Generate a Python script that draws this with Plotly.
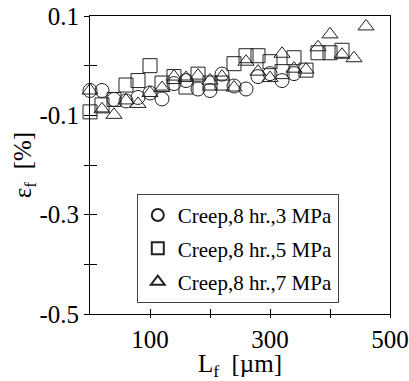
import plotly.graph_objects as go

# ---- data ----
x_circ = [0, 20, 40, 60, 80, 100, 120, 140, 160, 180, 200, 220, 240, 260, 280, 300, 320, 340]
y_circ = [-0.050, -0.050, -0.068, -0.071, -0.064, -0.055, -0.067, -0.036, -0.030, -0.047,
          -0.050, -0.017, -0.041, -0.047, -0.022, -0.016, -0.030, -0.016]

x_sq = [0, 20, 40, 60, 80, 100, 120, 140, 160, 180, 200, 220, 240, 260, 280, 300, 320, 340,
        360, 380, 400, 420]
y_sq = [-0.093, -0.079, -0.068, -0.039, -0.030, 0.000, -0.035, -0.022, -0.043, -0.017,
        -0.035, -0.035, 0.004, 0.020, 0.020, 0.008, -0.012, 0.016, -0.009, 0.026, 0.026, 0.031]

x_tri = [0, 20, 40, 60, 80, 100, 120, 140, 160, 180, 200, 220, 240, 260, 280, 300, 320, 340,
         360, 380, 400, 420, 440, 460]
y_tri = [-0.050, -0.088, -0.099, -0.070, -0.077, -0.055, -0.045, -0.022, -0.025, -0.020,
         -0.030, -0.022, -0.044, 0.008, -0.012, -0.025, 0.024, -0.006, -0.008, 0.037,
         0.063, 0.022, 0.015, 0.079]

series_names = ["Creep,8 hr.,3 MPa", "Creep,8 hr.,5 MPa", "Creep,8 hr.,7 MPa"]

x_labelvals = [100, 300, 500]
x_labeltext = ["100", "300", "500"]
x_minorvals = [200, 400]
x_allticks = [100, 200, 300, 400, 500]

y_labelvals = [0.1, -0.1, -0.3, -0.5]
y_labeltext = ["0.1", "-0.1", "-0.3", "-0.5"]
y_minorvals = [0.0, -0.2, -0.4]
y_allticks = [0.1, 0.0, -0.1, -0.2, -0.3, -0.4, -0.5]

FONT = "Times New Roman, Liberation Serif, serif"
INK = "#222222"

fig = go.Figure()
for xs, ys, sym, name, grp in [
    (x_circ, y_circ, "circle-open", series_names[0], "a"),
    (x_sq, y_sq, "square-open", series_names[1], "b"),
    (x_tri, y_tri, "triangle-up-open", series_names[2], "c"),
]:
    fig.add_trace(go.Scatter(
        x=xs, y=ys, mode="markers", name=name, legendgroup=grp,
        cliponaxis=False,
        marker=dict(symbol=sym, size=14, color=INK, line=dict(width=1, color=INK)),
    ))

# invisible trace on overlay axes (inner tick parts)
fig.add_trace(go.Scatter(x=[None], y=[None], xaxis="x2", yaxis="y2",
                         showlegend=False, hoverinfo="skip"))

axis_common = dict(showgrid=False, zeroline=False, linecolor="black", linewidth=1,
                   tickcolor="black", tickwidth=1, automargin=False,
                   tickfont=dict(family=FONT, size=25, color="black"))

fig.update_layout(
    width=409, height=381,
    margin=dict(l=90, r=19, t=16, b=67),
    paper_bgcolor="white", plot_bgcolor="white",
    font=dict(family=FONT, color="black"),
    xaxis=dict(range=[0, 500], tickmode="array", tickvals=x_labelvals, ticktext=x_labeltext,
               ticks="outside", ticklen=3, showline=True, mirror=True,
               minor=dict(tickmode="array", tickvals=x_minorvals, ticks="outside",
                          ticklen=3, tickcolor="black", showgrid=False),
               title=dict(text="L<sub>f</sub>  [µm]", font=dict(family=FONT, size=25),
                          standoff=6),
               **axis_common),
    yaxis=dict(range=[-0.5, 0.1], tickmode="array", tickvals=y_labelvals, ticktext=y_labeltext,
               ticks="outside", ticklen=5, showline=True, mirror=True,
               minor=dict(tickmode="array", tickvals=y_minorvals, ticks="outside",
                          ticklen=5, tickcolor="black", showgrid=False),
               title=dict(text="ε<sub>f</sub>  [%]", font=dict(family=FONT, size=25),
                          standoff=0),
               **axis_common),
    xaxis2=dict(range=[0, 500], overlaying="x", anchor="y2", tickmode="array",
                tickvals=x_allticks, ticks="inside", ticklen=5, showticklabels=False,
                showgrid=False, zeroline=False, showline=False, tickcolor="black",
                automargin=False),
    yaxis2=dict(range=[-0.5, 0.1], overlaying="y", anchor="x2", tickmode="array",
                tickvals=y_allticks, ticks="inside", ticklen=7, showticklabels=False,
                showgrid=False, zeroline=False, showline=False, tickcolor="black",
                automargin=False),
    showlegend=True,
    legend=dict(x=0.156, y=0.403, xanchor="left", yanchor="top",
                bgcolor="white", bordercolor="#444444", borderwidth=1,
                font=dict(family=FONT, size=21, color="black"),
                itemsizing="constant", tracegroupgap=3, traceorder="grouped"),
)

fig.write_html("out.html")
